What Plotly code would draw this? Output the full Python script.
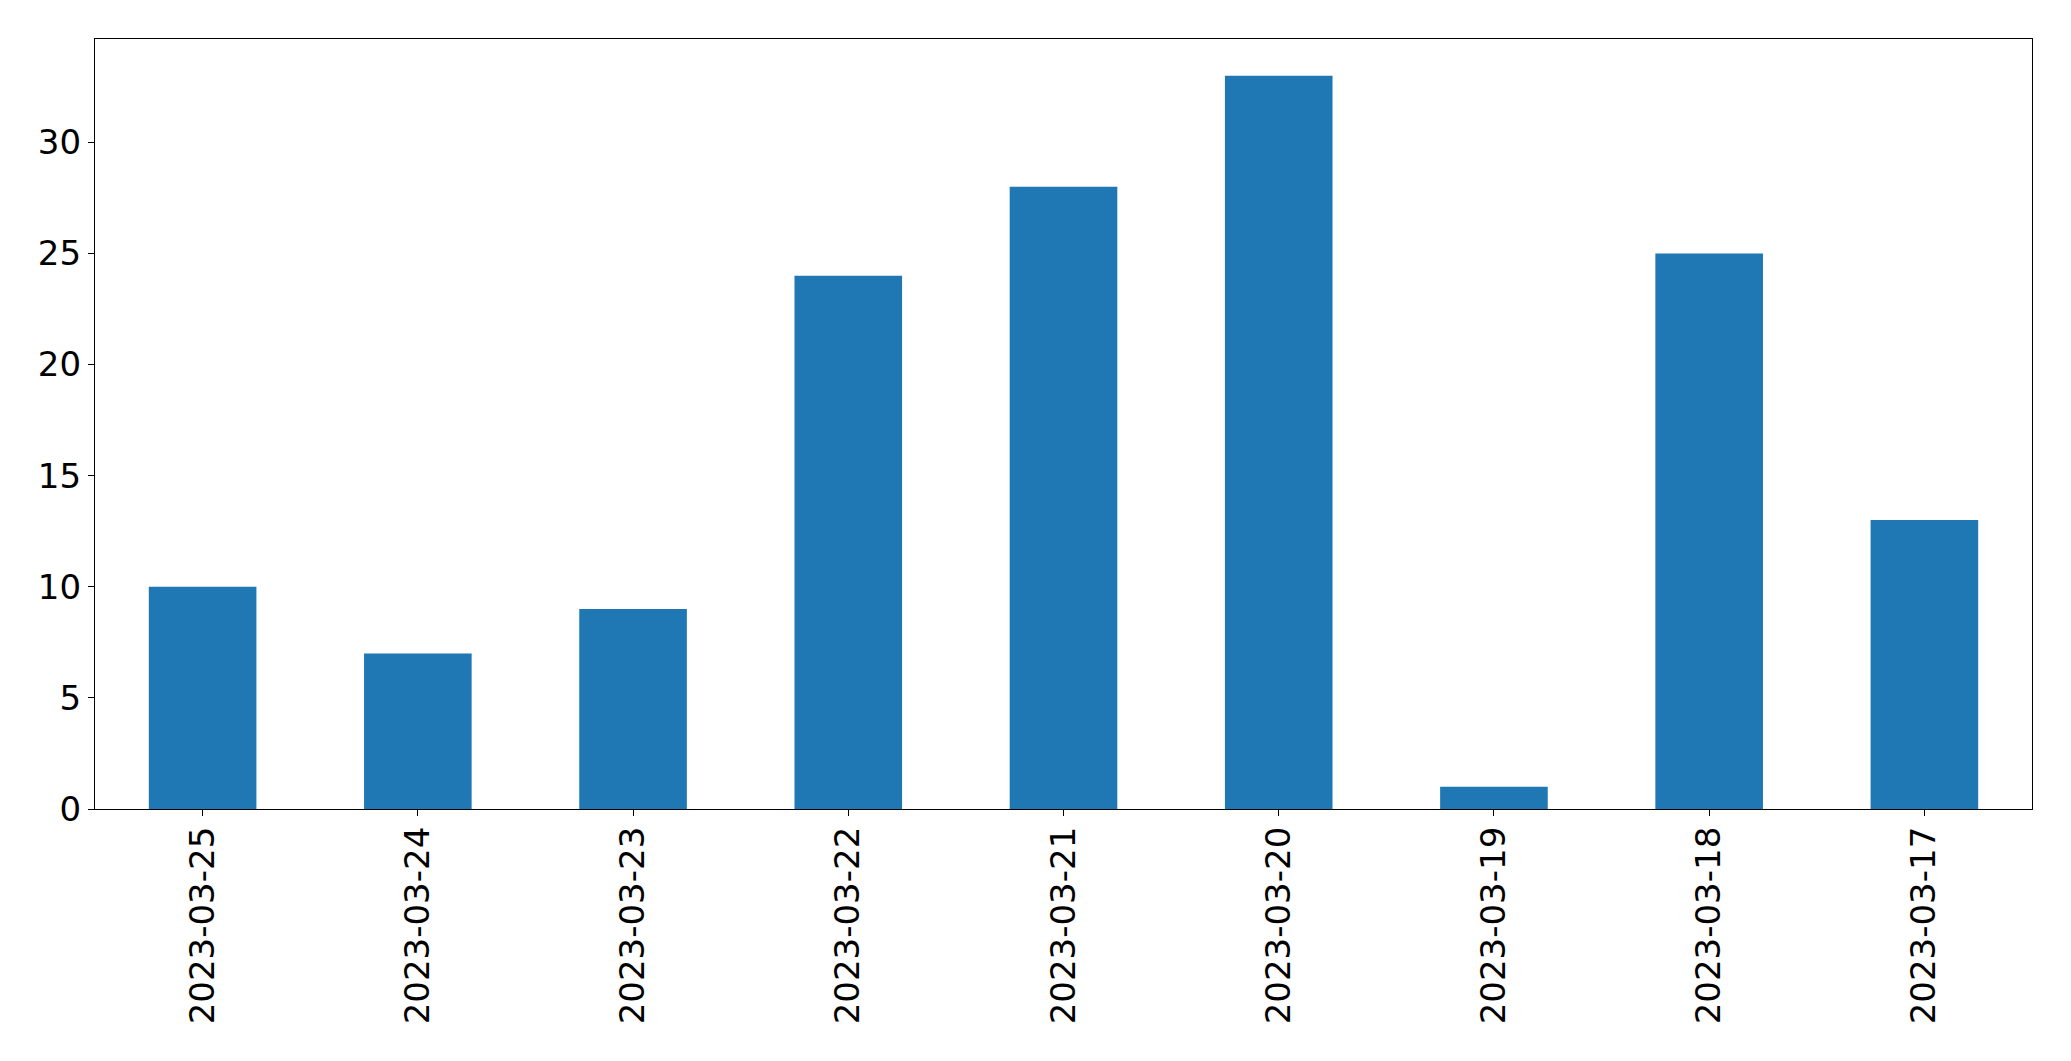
import plotly.graph_objects as go

dates = ["2023-03-25", "2023-03-24", "2023-03-23", "2023-03-22", "2023-03-21",
         "2023-03-20", "2023-03-19", "2023-03-18", "2023-03-17"]
counts = [10, 7, 9, 24, 28, 33, 1, 25, 13]
y_ticks = [0, 5, 10, 15, 20, 25, 30]

fig = go.Figure(go.Bar(
    x=dates, y=counts, width=0.5,
    marker=dict(color="#1f77b4", line=dict(width=0)),
))

font = "DejaVu Sans"
fig.update_layout(
    width=2071, height=1061,
    margin=dict(l=95, r=39, t=39, b=252),
    paper_bgcolor="white", plot_bgcolor="white",
    showlegend=False,
    font=dict(family=font, size=34, color="black"),
)
fig.update_xaxes(
    type="category", range=[-0.5, 8.5],
    tickangle=-90, ticks="outside", ticklen=6, tickwidth=1.3, tickcolor="black",
    ticklabelstandoff=-3,
    showline=True, linecolor="black", linewidth=1.3, mirror=True,
    showgrid=False, zeroline=False,
    tickfont=dict(family=font, size=34, color="black"),
)
fig.update_yaxes(
    range=[0, 34.65], tickvals=y_ticks,
    ticks="outside", ticklen=6, tickwidth=1.3, tickcolor="black",
    showline=True, linecolor="black", linewidth=1.3, mirror=True,
    showgrid=False, zeroline=False,
    tickfont=dict(family=font, size=34, color="black"),
)

fig.write_html("out.html")
